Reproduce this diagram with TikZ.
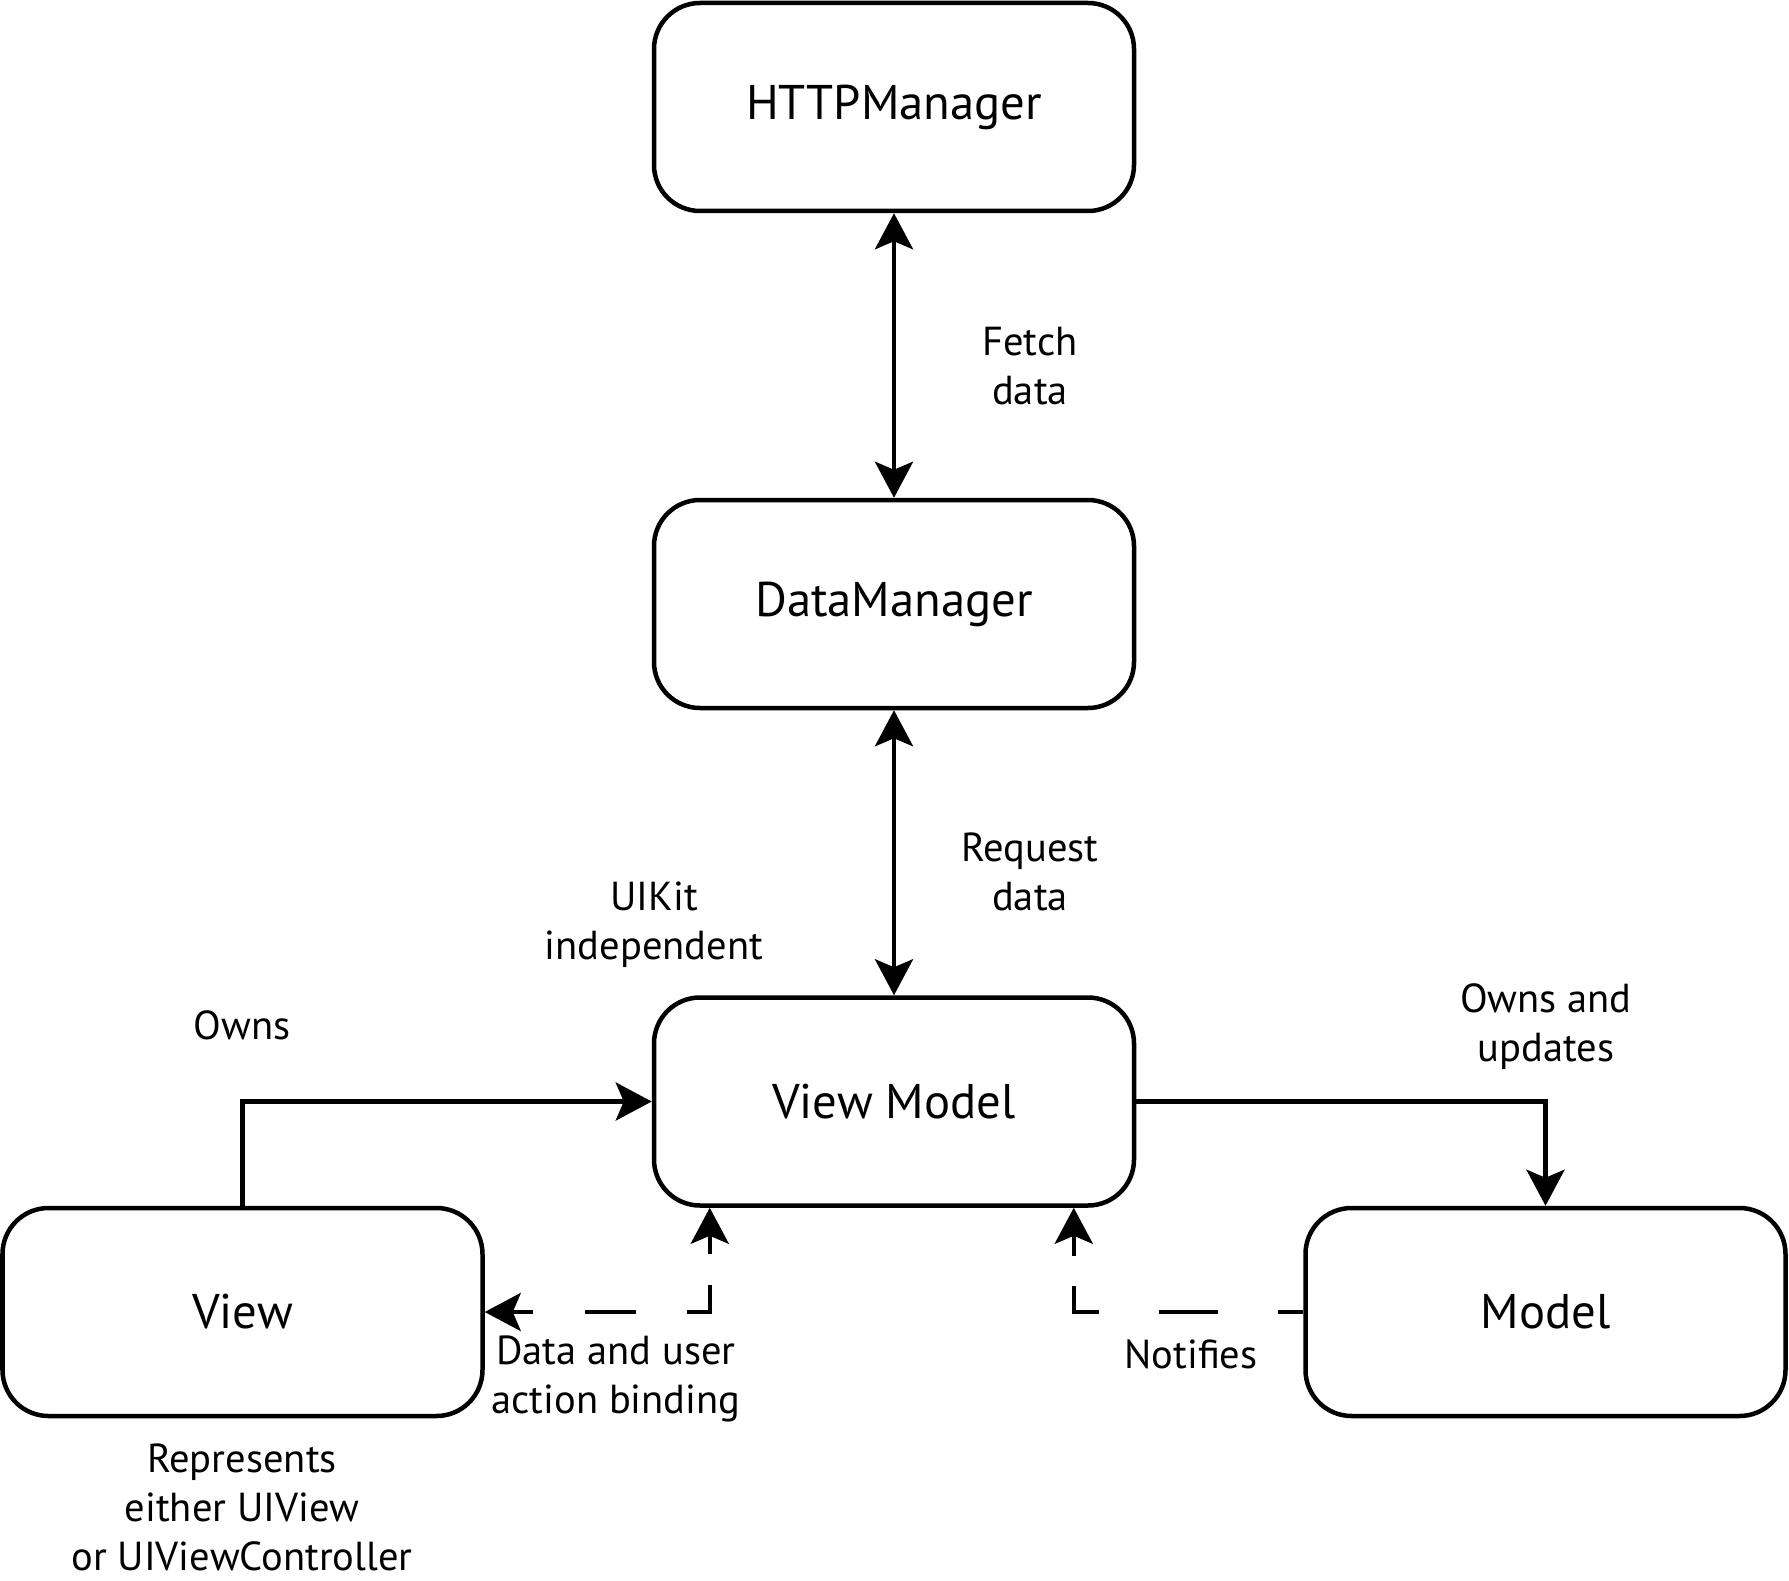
\documentclass[tikz,border=0pt]{standalone}
\usepackage{fontspec}
\setmainfont{PT Sans}
\usetikzlibrary{arrows.meta,calc}
\tikzset{
  box/.style={draw, line width=4.5pt, rounded corners=46pt, minimum width=480pt, minimum height=208pt, inner sep=0pt, font=\fontsize{48.7}{58}\selectfont},
  lbl/.style={align=center, inner sep=0pt, font=\fontsize{40.5}{49}\selectfont},
  conn/.style={line width=4.5pt, arrows={-Stealth[length=36pt,width=38pt,inset=8pt]}},
  rconn/.style={line width=4.5pt, arrows={Stealth[length=36pt,width=38pt,inset=8pt]-}},
  biconn/.style={line width=4.5pt, arrows={Stealth[length=36pt,width=38pt,inset=8pt]-Stealth[length=36pt,width=38pt,inset=8pt]}}
}
\begin{document}
\begin{tikzpicture}[x=1pt,y=-1pt]
\useasboundingbox (0,0) rectangle (1789,1581);
\node[box] (http) at (894,107) {HTTPManager};
\node[box] (data) at (894,604) {DataManager};
\node[box] (vm) at (894,1101.5) {View Model};
\node[box] (view) at (242.5,1312) {View};
\node[box] (model) at (1545.5,1312) {Model};

\draw[biconn] (http.south) -- (data.north);
\draw[biconn] (data.south) -- (vm.north);
\draw[conn] (view.north) |- (vm.west);
\draw[conn] (vm.east) -| (model.north);

\coordinate (vmL) at ($(vm.south west)+(58,0)$);
\coordinate (vmR) at ($(vm.south west)+(422,0)$);
\draw[biconn, dash pattern=on 22pt off 52pt on 51pt off 51pt on 49pt off 31pt on 200pt off 10pt] (view.east) -| (vmL);
\draw[rconn, dash pattern=on 22pt off 30pt on 51pt off 60pt on 59pt off 60pt on 200pt off 10pt] (vmR) |- (model.west);

\node[lbl] (fetch) at (1030,366) {Fetch\\data};
\node[lbl] (request) at (1030,872) {Request\\data};
\node[lbl] (uikit) at (654,925) {UIKit\\independent};
\node[lbl] (owns) at (242,1025) {Owns};
\node[lbl] (ownsup) at (1546,1027) {Owns and\\updates};
\node[lbl] (binding) at (616,1379) {Data and user\\action binding};
\node[lbl] (notifies) at (1191,1354) {Notifies};
\node[lbl] (represents) at (242,1507) {Represents\\either UIView\\or UIViewController};
\end{tikzpicture}
\end{document}
